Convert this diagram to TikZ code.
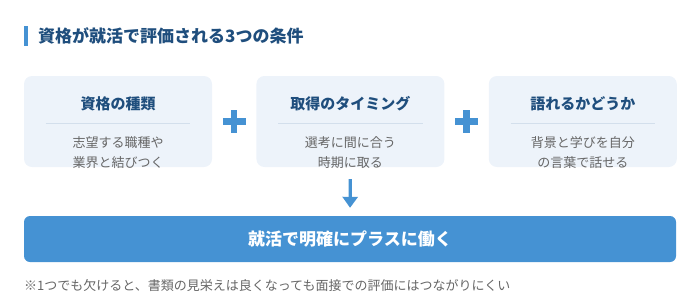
\documentclass[tikz,border=0pt]{standalone}
\usepackage{fontspec}
\setmainfont{Noto Sans CJK JP}
\usepackage{tikz}
\usetikzlibrary{positioning, arrows.meta, calc}

\definecolor{navy}{HTML}{1F4E7D}
\definecolor{accent}{HTML}{4592D3}
\definecolor{cardfill}{HTML}{EDF3FA}
\definecolor{sepline}{HTML}{D3DFEC}
\definecolor{bodygray}{HTML}{666666}

\begin{document}
\begin{tikzpicture}[
    x=1pt, y=1pt,
    card/.style={rectangle, fill=cardfill, rounded corners=8pt, minimum width=188pt, minimum height=91pt, inner sep=0pt},
    cardtitle/.style={inner sep=0pt, font=\bfseries\fontsize{15}{17}\selectfont, text=navy},
    cardtext/.style={inner sep=0pt, align=center, font=\fontsize{13}{20}\selectfont, text=bodygray},
    divider/.style={draw=sepline, line width=0.8pt},
    plus/.style={draw=accent, line width=6.5pt, line cap=butt, line join=round},
    arrow/.style={-{Triangle[length=11pt, width=15pt]}, draw=accent, line width=3.2pt},
    result/.style={rectangle, fill=accent, rounded corners=6pt, minimum width=652pt, minimum height=46pt, font=\bfseries\fontsize{17}{20}\selectfont, text=white},
    heading/.style={inner sep=0pt, anchor=west, font=\bfseries\fontsize{17}{20}\selectfont, text=navy},
    note/.style={inner sep=0pt, anchor=west, font=\fontsize{13}{16}\selectfont, text=bodygray},
]
\useasboundingbox (0,0) rectangle (700,-306);

% heading
\node[fill=accent, minimum width=3.5pt, minimum height=20pt, inner sep=0pt] (mark) at (25.75,-36) {};
\node[heading] (title) at (38,-36) {資格が就活で評価される3つの条件};

% three conditions
\node[card] (cond1) at (118,-121.5) {};
\node[card, right=44pt of cond1] (cond2) {};
\node[card, right=44pt of cond2] (cond3) {};

\node[cardtitle] (name1) at ([yshift=-28pt]cond1.north) {資格の種類};
\node[cardtitle] (name2) at ([yshift=-28pt]cond2.north) {取得のタイミング};
\node[cardtitle] (name3) at ([yshift=-28pt]cond3.north) {語れるかどうか};

\draw[divider] ([xshift=22pt, yshift=-48pt]cond1.north west) -- ([xshift=-22pt, yshift=-48pt]cond1.north east);
\draw[divider] ([xshift=22pt, yshift=-48pt]cond2.north west) -- ([xshift=-22pt, yshift=-48pt]cond2.north east);
\draw[divider] ([xshift=22pt, yshift=-48pt]cond3.north west) -- ([xshift=-22pt, yshift=-48pt]cond3.north east);

\node[cardtext] (desc1) at ([yshift=-77pt]cond1.north) {志望する職種や\\業界と結びつく};
\node[cardtext] (desc2) at ([yshift=-77pt]cond2.north) {選考に間に合う\\時期に取る};
\node[cardtext] (desc3) at ([yshift=-77pt]cond3.north) {背景と学びを自分\\の言葉で話せる};

% plus signs
\coordinate (plus1) at ($(cond1.east)!0.5!(cond2.west)$);
\coordinate (plus2) at ($(cond2.east)!0.5!(cond3.west)$);
\draw[plus] ([xshift=-11.3pt]plus1) -- ([xshift=11.3pt]plus1) ([yshift=-11.3pt]plus1) -- ([yshift=11.3pt]plus1);
\draw[plus] ([xshift=-11.3pt]plus2) -- ([xshift=11.3pt]plus2) ([yshift=-11.3pt]plus2) -- ([yshift=11.3pt]plus2);

% outcome
\node[result] (goal) at (350,-239) {就活で明確にプラスに働く};
\draw[arrow, shorten <=12pt, shorten >=8pt] (cond2.south) -- (goal.north);

\node[note] (foot) at (24,-286) {※1つでも欠けると、書類の見栄えは良くなっても面接での評価にはつながりにくい};

\end{tikzpicture}
\end{document}
